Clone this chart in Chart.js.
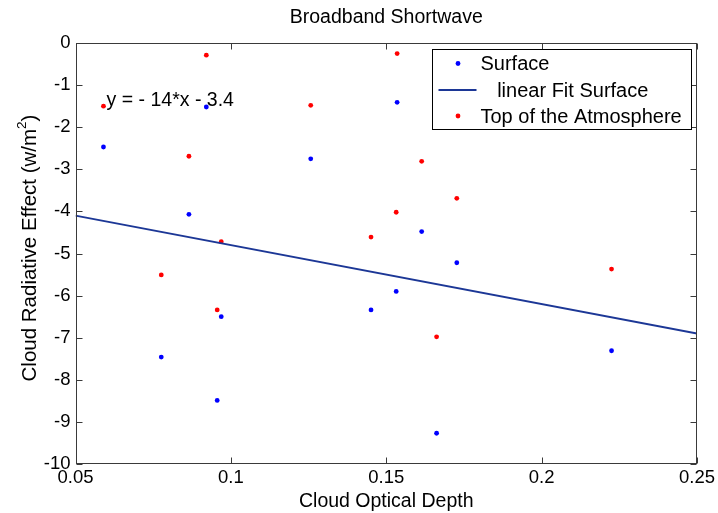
<!DOCTYPE html>
<html>
<head>
<meta charset="utf-8">
<title>Broadband Shortwave</title>
<script src="https://cdn.jsdelivr.net/npm/chart.js@4.4.1/dist/chart.umd.min.js"></script>
<style>
  body { margin: 0; background: #fff; }
  #wrap { width: 718px; height: 513px; }
</style>
</head>
<body>
<div id="wrap"><canvas id="cloudChart" width="718" height="513"></canvas></div>
<script>
// cloud optical depth for each case
const opticalDepth = [0.059, 0.0776, 0.0865, 0.0921, 0.0956, 0.0969, 0.1257, 0.1451, 0.1532, 0.1535, 0.1614, 0.1662, 0.1727, 0.2225];
// radiative effect at the surface and at top of atmosphere (w/m2)
const surfaceEffect = [-2.47, -7.46, -4.07, -1.52, -8.49, -6.50, -2.75, -6.34, -5.90, -1.41, -4.48, -9.27, -5.22, -7.31];
const toaEffect = [-1.50, -5.51, -2.69, -0.29, -6.34, -4.72, -1.48, -4.61, -4.02, -0.25, -2.81, -6.98, -3.69, -5.37];
// linear fit end points
const fitX = [0.05, 0.25];
const fitY = [-4.1, -6.9];
const fitText = 'y = - 14*x - 3.4';

const xTicks = [0.05, 0.1, 0.15, 0.2, 0.25];
const xTickLabels = ['0.05', '0.1', '0.15', '0.2', '0.25'];
const yTicks = [-10, -9, -8, -7, -6, -5, -4, -3, -2, -1, 0];
const yTickLabels = ['-10', '-9', '-8', '-7', '-6', '-5', '-4', '-3', '-2', '-1', '0'];

const FONT = '"Liberation Sans", Arial, sans-serif';

function toPoints(xs, ys) {
    return xs.map((x, i) => ({x: x, y: ys[i]}));
}

// matlab style box with inward ticks on all four sides, plus title texts
const boxPlugin = {
    id: 'boxTicks',
    afterDatasetsDraw(chart) {
        const {ctx, chartArea: a, scales: {x, y}} = chart;
        const L = Math.round(a.left) + 0.5, R = Math.round(a.right) - 0.5;
        const T = Math.round(a.top) + 0.5, B = Math.round(a.bottom) - 0.5;
        ctx.save();
        ctx.strokeStyle = '#3a3a3a';
        ctx.lineWidth = 1;
        ctx.strokeRect(L, T, R - L, B - T);
        ctx.beginPath();
        xTicks.forEach(v => {
            const px = Math.round(x.getPixelForValue(v)) + 0.5;
            ctx.moveTo(px, B); ctx.lineTo(px, B - 6);
            ctx.moveTo(px, T); ctx.lineTo(px, T + 6);
        });
        yTicks.forEach(v => {
            const py = Math.round(y.getPixelForValue(v)) + 0.5;
            ctx.moveTo(L, py); ctx.lineTo(L + 6, py);
            ctx.moveTo(R, py); ctx.lineTo(R - 6, py);
        });
        ctx.stroke();

        ctx.fillStyle = '#000';
        ctx.textBaseline = 'middle';

        // fit equation
        ctx.font = '19.5px ' + FONT;
        ctx.textAlign = 'left';
        ctx.fillText(fitText, x.getPixelForValue(0.06), y.getPixelForValue(-1.36));

        // title, centred over the plot
        ctx.textAlign = 'center';
        ctx.fillText('Broadband Shortwave', (a.left + a.right) / 2, 18);

        // y axis title with superscript
        const main = 'Cloud Radiative Effect (w/m';
        ctx.font = '20.5px ' + FONT;
        const w1 = ctx.measureText(main).width;
        const w3 = ctx.measureText(')').width;
        ctx.font = '13.5px ' + FONT;
        const w2 = ctx.measureText('2').width;
        const total = w1 + w2 + w3;
        ctx.translate(30, 248);
        ctx.rotate(-Math.PI / 2);
        ctx.textAlign = 'left';
        let cx = -total / 2;
        ctx.font = '20.5px ' + FONT;
        ctx.fillText(main, cx, 0);
        cx += w1;
        ctx.font = '13.5px ' + FONT;
        ctx.fillText('2', cx, -8);
        cx += w2;
        ctx.font = '20.5px ' + FONT;
        ctx.fillText(')', cx, 0);
        ctx.restore();
    }
};

// legend box in the upper right corner
const legendPlugin = {
    id: 'boxLegend',
    afterDraw(chart) {
        const {ctx, chartArea: a} = chart;
        const w = 259, h = 80;
        const left = Math.round(a.right - 265) + 0.5, top = Math.round(a.top + 6) + 0.5;
        ctx.save();
        ctx.fillStyle = '#fff';
        ctx.fillRect(left, top, w, h);
        ctx.strokeStyle = '#000';
        ctx.lineWidth = 1;
        ctx.strokeRect(left, top, w, h);
        ctx.font = '20px ' + FONT;
        ctx.textBaseline = 'middle';
        ctx.textAlign = 'left';
        const rows = [14, 40.5, 66.5];
        chart.data.datasets.forEach((ds, i) => {
            const cy = top + rows[i];
            if (ds.showLine) {
                ctx.strokeStyle = ds.borderColor;
                ctx.lineWidth = 2;
                ctx.beginPath();
                ctx.moveTo(left + 6, cy);
                ctx.lineTo(left + 44, cy);
                ctx.stroke();
            } else {
                ctx.fillStyle = ds.pointBackgroundColor;
                ctx.beginPath();
                ctx.arc(left + 25.5, cy, 2.4, 0, Math.PI * 2);
                ctx.fill();
            }
            ctx.fillStyle = '#000';
            ctx.fillText(ds.label, left + 48, cy + 1);
        });
        ctx.restore();
    }
};

const ctx = document.getElementById('cloudChart').getContext('2d');

const chart = new Chart(ctx, {
    type: 'scatter',
    data: {
        datasets: [{
            label: 'Surface',
            data: toPoints(opticalDepth, surfaceEffect),
            pointBackgroundColor: '#0000ff',
            pointBorderWidth: 0,
            pointRadius: 2.4,
            showLine: false,
        }, {
            label: '   linear Fit Surface',
            data: toPoints(fitX, fitY),
            borderColor: '#1c3796',
            borderWidth: 2,
            pointRadius: 0,
            showLine: true,
        }, {
            label: 'Top of the Atmosphere',
            data: toPoints(opticalDepth, toaEffect),
            pointBackgroundColor: '#ff0000',
            pointBorderWidth: 0,
            pointRadius: 2.4,
            showLine: false,
        }]
    },
    options: {
        responsive: false,
        animation: false,
        layout: { padding: { top: 43, right: 21, left: 0, bottom: 0 } },
        plugins: {
            legend: { display: false },
            tooltip: { enabled: false },
            title: { display: false }
        },
        scales: {
            x: {
                type: 'linear',
                min: 0.05,
                max: 0.25,
                afterBuildTicks: s => { s.ticks = xTicks.map(v => ({value: v})); },
                afterFit: s => { s.height = 49; },
                grid: { display: false, drawTicks: false },
                border: { display: false },
                ticks: {
                    color: '#000',
                    padding: 3,
                    maxRotation: 0,
                    font: { family: FONT, size: 18.5 },
                    callback: (v, i) => xTickLabels[i]
                },
                title: {
                    display: true,
                    text: 'Cloud Optical Depth',
                    color: '#000',
                    font: { family: FONT, size: 19.5 },
                    padding: { top: 7, bottom: 0 }
                }
            },
            y: {
                type: 'linear',
                min: -10,
                max: 0,
                afterBuildTicks: s => { s.ticks = yTicks.map(v => ({value: v})); },
                afterFit: s => { s.width = 75.5; },
                grid: { display: false, drawTicks: false },
                border: { display: false },
                ticks: {
                    color: '#000',
                    padding: 5,
                    font: { family: FONT, size: 18.5 },
                    callback: (v, i) => yTickLabels[i]
                }
            }
        }
    },
    plugins: [boxPlugin, legendPlugin]
});
</script>
</body>
</html>
